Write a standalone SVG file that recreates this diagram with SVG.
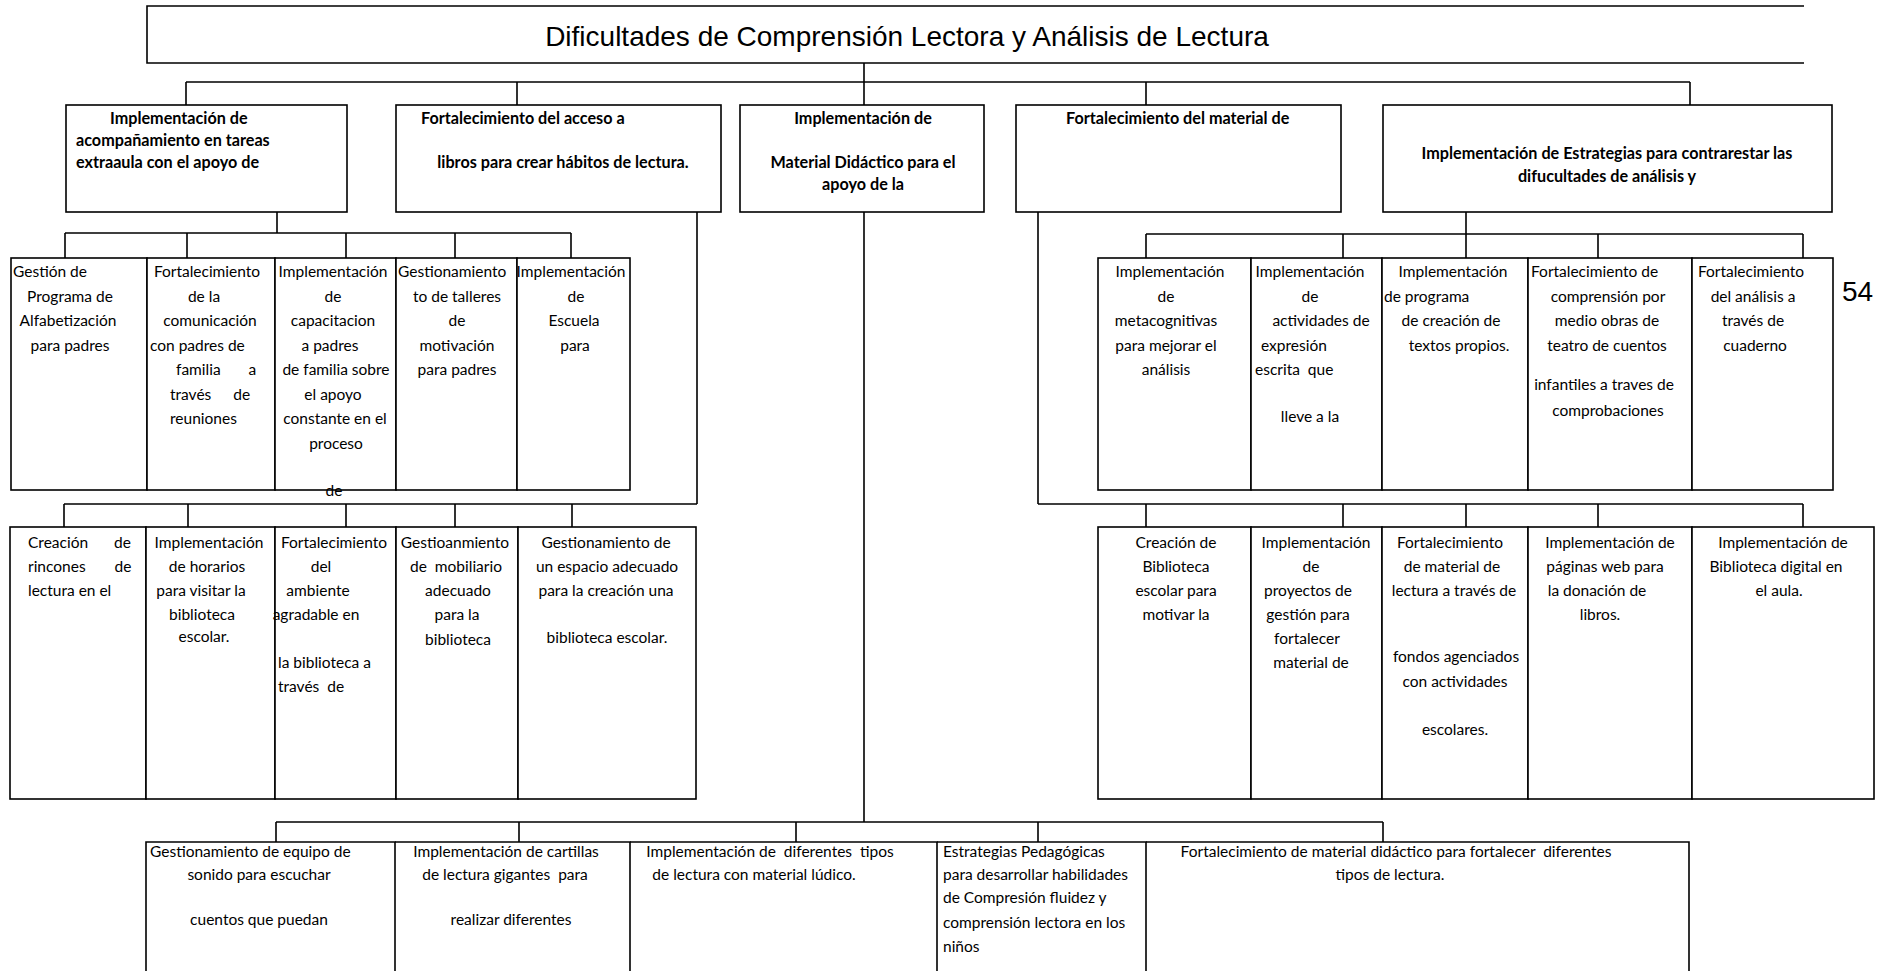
<svg xmlns="http://www.w3.org/2000/svg" width="1886" height="971" viewBox="0 0 1886 971">
<style>
.bx{fill:#fff;stroke:#000;stroke-width:1.6}
.ln{fill:none;stroke:#000;stroke-width:1.6}
.t{font-family:Lato,"Open Sans","Liberation Sans",sans-serif;font-size:15.5px;fill:#000}
.c{text-anchor:middle}
.b{font-family:Lato,"Open Sans","Liberation Sans",sans-serif;font-size:16.2px;font-weight:bold;fill:#000}
.bt{font-family:Lato,"Open Sans","Liberation Sans",sans-serif;font-size:15.5px;fill:#000}
.ttl{font-family:"Liberation Sans",Arial,sans-serif;font-size:28px;fill:#000}
.pre{white-space:pre}
</style>
<rect width="1886" height="971" fill="#fff"/>

<g id="connectors">
<path class="ln" d="M864 63V82M186 82H1690M186 82V105M517 82V105M864 82V105M1146 82V105M1690 82V105"/>
<path class="ln" d="M277 212V233M65 233H571M65 233V258M187 233V258M346 233V258M455 233V258M571 233V258"/>
<path class="ln" d="M697 212V504M64 504H697M64 504V527M188 504V527M346 504V527M455 504V527M572 504V527"/>
<path class="ln" d="M864 212V822M276 822H1383M276 822V842M519 822V842M796 822V842M1038 822V842M1383 822V842"/>
<path class="ln" d="M1038 212V504M1038 504H1803M1146 504V527M1343 504V527M1466 504V527M1598 504V527M1803 504V527"/>
<path class="ln" d="M1466 212V234M1146 234H1803M1146 234V258M1343 234V258M1466 234V258M1598 234V258M1803 234V258"/>
</g>

<g id="title">
<path class="ln" d="M1804 6H147V63H1804"/>
<text class="ttl c" x="907" y="46">Dificultades de Comprensión Lectora y Análisis de Lectura</text>
</g>

<g id="n1a">
<rect class="bx" x="66" y="105" width="281" height="107"/>
<text class="b"><tspan x="110" y="124">Implementación de</tspan><tspan x="76" y="146">acompañamiento en tareas</tspan><tspan x="76" y="168">extraaula con el apoyo de</tspan></text>
</g>
<g id="n1b">
<rect class="bx" x="396" y="105" width="325" height="107"/>
<text class="b"><tspan x="421" y="124">Fortalecimiento del acceso a</tspan><tspan x="563" y="168" text-anchor="middle">libros para crear hábitos de lectura.</tspan></text>
</g>
<g id="n1c">
<rect class="bx" x="740" y="105" width="244" height="107"/>
<text class="b c"><tspan x="863" y="124">Implementación de</tspan><tspan x="863" y="168">Material Didáctico para el</tspan><tspan x="863" y="190">apoyo de la</tspan></text>
</g>
<g id="n1d">
<rect class="bx" x="1016" y="105" width="325" height="107"/>
<text class="b"><tspan x="1066" y="124">Fortalecimiento del material de</tspan></text>
</g>
<g id="n1e">
<rect class="bx" x="1383" y="105" width="449" height="107"/>
<text class="b c"><tspan x="1607" y="159">Implementación de Estrategias para contrarestar las</tspan><tspan x="1607" y="182">difucultades de análisis y</tspan></text>
</g>

<g id="n2l1">
<rect class="bx" x="11" y="258" width="136" height="232"/>
<text class="t"><tspan x="13" y="277">Gestión de</tspan><tspan x="70" y="301.5" text-anchor="middle">Programa de</tspan><tspan x="68" y="326" text-anchor="middle">Alfabetización</tspan><tspan x="70" y="350.5" text-anchor="middle">para padres</tspan></text>
</g>
<g id="n2l2">
<rect class="bx" x="147" y="258" width="128" height="232"/>
<text class="t"><tspan x="207" y="277" text-anchor="middle">Fortalecimiento</tspan><tspan x="204" y="301.5" text-anchor="middle">de la</tspan><tspan x="210" y="326" text-anchor="middle">comunicación</tspan><tspan x="150" y="350.5">con padres de</tspan><tspan x="176" y="375" word-spacing="24">familia a</tspan><tspan x="170" y="399.5" word-spacing="18">través de</tspan><tspan x="170" y="424">reuniones</tspan></text>
</g>
<g id="n2l3">
<rect class="bx" x="275" y="258" width="121" height="232"/>
<text class="t c"><tspan x="333" y="277">Implementación</tspan><tspan x="333" y="301.5">de</tspan><tspan x="333" y="326">capacitacion</tspan><tspan x="330" y="350.5">a padres</tspan><tspan x="336" y="375">de familia sobre</tspan><tspan x="333" y="399.5">el apoyo</tspan><tspan x="335" y="424">constante en el</tspan><tspan x="336" y="448.5">proceso</tspan><tspan x="334" y="496">de</tspan></text>
</g>
<g id="n2l4">
<rect class="bx" x="396" y="258" width="121" height="232"/>
<text class="t"><tspan x="398" y="277">Gestionamiento</tspan><tspan x="457" y="301.5" text-anchor="middle">to de talleres</tspan><tspan x="457" y="326" text-anchor="middle">de</tspan><tspan x="457" y="350.5" text-anchor="middle">motivación</tspan><tspan x="457" y="375" text-anchor="middle">para padres</tspan></text>
</g>
<g id="n2l5">
<rect class="bx" x="517" y="258" width="113" height="232"/>
<text class="t c"><tspan x="571" y="277">Implementación</tspan><tspan x="576" y="301.5">de</tspan><tspan x="574" y="326">Escuela</tspan><tspan x="575" y="350.5">para</tspan></text>
</g>

<g id="n2r1">
<rect class="bx" x="1098" y="258" width="153" height="232"/>
<text class="t c"><tspan x="1170" y="277">Implementación</tspan><tspan x="1166" y="301.5">de</tspan><tspan x="1166" y="326">metacognitivas</tspan><tspan x="1166" y="350.5">para mejorar el</tspan><tspan x="1166" y="375">análisis</tspan></text>
</g>
<g id="n2r2">
<rect class="bx" x="1251" y="258" width="131" height="232"/>
<text class="t pre" xml:space="preserve"><tspan x="1310" y="277" text-anchor="middle">Implementación</tspan><tspan x="1310" y="301.5" text-anchor="middle">de</tspan><tspan x="1321" y="326" text-anchor="middle">actividades de</tspan><tspan x="1261" y="350.5">expresión</tspan><tspan x="1255" y="375">escrita  que</tspan><tspan x="1310" y="422" text-anchor="middle">lleve a la</tspan></text>
</g>
<g id="n2r3">
<rect class="bx" x="1382" y="258" width="146" height="232"/>
<text class="t"><tspan x="1453" y="277" text-anchor="middle">Implementación</tspan><tspan x="1384" y="301.5">de programa</tspan><tspan x="1451" y="326" text-anchor="middle">de creación de</tspan><tspan x="1459" y="350.5" text-anchor="middle">textos propios.</tspan></text>
</g>
<g id="n2r4">
<rect class="bx" x="1528" y="258" width="164" height="232"/>
<text class="t"><tspan x="1531" y="277">Fortalecimiento de</tspan><tspan x="1608" y="301.5" text-anchor="middle">comprensión por</tspan><tspan x="1607" y="326" text-anchor="middle">medio obras de</tspan><tspan x="1607" y="350.5" text-anchor="middle">teatro de cuentos</tspan><tspan x="1604" y="390" text-anchor="middle">infantiles a traves de</tspan><tspan x="1608" y="416" text-anchor="middle">comprobaciones</tspan></text>
</g>
<g id="n2r5">
<rect class="bx" x="1692" y="258" width="141" height="232"/>
<text class="t c"><tspan x="1751" y="277">Fortalecimiento</tspan><tspan x="1753" y="301.5">del análisis a</tspan><tspan x="1753" y="326">través de</tspan><tspan x="1755" y="350.5">cuaderno</tspan></text>
</g>
<g id="page-number">
<text class="ttl" x="1842" y="301" font-size="27">54</text>
</g>

<g id="n3l1">
<rect class="bx" x="10" y="527" width="136" height="272"/>
<text class="t"><tspan x="28" y="548" word-spacing="22">Creación de</tspan><tspan x="28" y="572" word-spacing="25">rincones de</tspan><tspan x="28" y="596">lectura en el</tspan></text>
</g>
<g id="n3l2">
<rect class="bx" x="146" y="527" width="129" height="272"/>
<text class="t c"><tspan x="209" y="548">Implementación</tspan><tspan x="207" y="572">de horarios</tspan><tspan x="201" y="596">para visitar la</tspan><tspan x="202" y="620">biblioteca</tspan><tspan x="204" y="642">escolar.</tspan></text>
</g>
<g id="n3l3">
<rect class="bx" x="275" y="527" width="121" height="272"/>
<text class="t pre" xml:space="preserve"><tspan x="334" y="548" text-anchor="middle">Fortalecimiento</tspan><tspan x="321" y="572" text-anchor="middle">del</tspan><tspan x="318" y="596" text-anchor="middle">ambiente</tspan><tspan x="316" y="620" text-anchor="middle">agradable en</tspan><tspan x="278" y="668">la biblioteca a</tspan><tspan x="278" y="692">través  de</tspan></text>
</g>
<g id="n3l4">
<rect class="bx" x="396" y="527" width="122" height="272"/>
<text class="t c pre" xml:space="preserve"><tspan x="455" y="548">Gestioanmiento</tspan><tspan x="456" y="572">de  mobiliario</tspan><tspan x="458" y="596">adecuado</tspan><tspan x="457" y="620">para la</tspan><tspan x="458" y="645">biblioteca</tspan></text>
</g>
<g id="n3l5">
<rect class="bx" x="518" y="527" width="178" height="272"/>
<text class="t c"><tspan x="606" y="548">Gestionamiento de</tspan><tspan x="607" y="572">un espacio adecuado</tspan><tspan x="606" y="596">para la creación una</tspan><tspan x="607" y="643">biblioteca escolar.</tspan></text>
</g>

<g id="n3r1">
<rect class="bx" x="1098" y="527" width="153" height="272"/>
<text class="t c"><tspan x="1176" y="548">Creación de</tspan><tspan x="1176" y="572">Biblioteca</tspan><tspan x="1176" y="596">escolar para</tspan><tspan x="1176" y="620">motivar la</tspan></text>
</g>
<g id="n3r2">
<rect class="bx" x="1251" y="527" width="131" height="272"/>
<text class="t c"><tspan x="1316" y="548">Implementación</tspan><tspan x="1311" y="572">de</tspan><tspan x="1308" y="596">proyectos de</tspan><tspan x="1308" y="620">gestión para</tspan><tspan x="1307" y="644">fortalecer</tspan><tspan x="1311" y="668">material de</tspan></text>
</g>
<g id="n3r3">
<rect class="bx" x="1382" y="527" width="146" height="272"/>
<text class="t c"><tspan x="1450" y="548">Fortalecimiento</tspan><tspan x="1452" y="572">de material de</tspan><tspan x="1454" y="596">lectura a través de</tspan><tspan x="1456" y="662">fondos agenciados</tspan><tspan x="1455" y="687">con actividades</tspan><tspan x="1455" y="735">escolares.</tspan></text>
</g>
<g id="n3r4">
<rect class="bx" x="1528" y="527" width="164" height="272"/>
<text class="t c"><tspan x="1610" y="548">Implementación de</tspan><tspan x="1605" y="572">páginas web para</tspan><tspan x="1597" y="596">la donación de</tspan><tspan x="1600" y="620">libros.</tspan></text>
</g>
<g id="n3r5">
<rect class="bx" x="1692" y="527" width="182" height="272"/>
<text class="t c"><tspan x="1783" y="548">Implementación de</tspan><tspan x="1776" y="572">Biblioteca digital en</tspan><tspan x="1779" y="596">el aula.</tspan></text>
</g>

<g id="n4a">
<path class="ln" d="M146 975V842H395V975"/>
<text class="bt"><tspan x="150" y="857">Gestionamiento de equipo de</tspan><tspan x="259" y="880" text-anchor="middle">sonido para escuchar</tspan><tspan x="259" y="925" text-anchor="middle">cuentos que puedan</tspan></text>
</g>
<g id="n4b">
<path class="ln" d="M395 842H630V975"/>
<text class="bt c pre" xml:space="preserve"><tspan x="506" y="857">Implementación de cartillas</tspan><tspan x="505" y="880">de lectura gigantes  para</tspan><tspan x="511" y="925">realizar diferentes</tspan></text>
</g>
<g id="n4c">
<path class="ln" d="M630 842H937V975"/>
<text class="bt c pre" xml:space="preserve"><tspan x="770" y="857">Implementación de  diferentes  tipos</tspan><tspan x="754" y="880">de lectura con material lúdico.</tspan></text>
</g>
<g id="n4d">
<path class="ln" d="M937 842H1146V975"/>
<text class="bt"><tspan x="943" y="857">Estrategias Pedagógicas</tspan><tspan x="943" y="880">para desarrollar habilidades</tspan><tspan x="943" y="903">de Compresión fluidez y</tspan><tspan x="943" y="928">comprensión lectora en los</tspan><tspan x="943" y="952">niños</tspan></text>
</g>
<g id="n4e">
<path class="ln" d="M1146 842H1689V975"/>
<text class="bt c pre" xml:space="preserve"><tspan x="1396" y="857">Fortalecimiento de material didáctico para fortalecer  diferentes</tspan><tspan x="1390" y="880">tipos de lectura.</tspan></text>
</g>
</svg>
